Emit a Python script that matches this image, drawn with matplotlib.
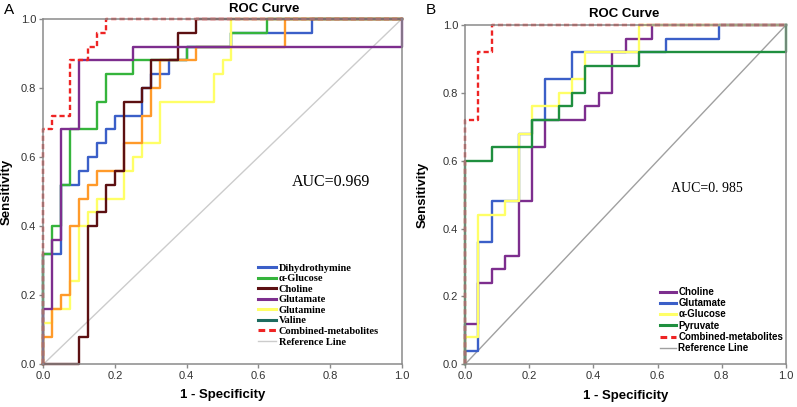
import matplotlib.pyplot as plt
from matplotlib.lines import Line2D

plt.rcParams['font.family'] = ['Liberation Sans', 'DejaVu Sans']

# ---- panel A : ROC corner points (1 - specificity, sensitivity) ----
dihydro_fpr = [0, 0, 0.05, 0.05, 0.1, 0.1, 0.125, 0.125, 0.15, 0.15, 0.175, 0.175, 0.2, 0.2,
               0.275, 0.275, 0.3, 0.3, 0.35, 0.35, 0.4, 0.4, 0.525, 0.525, 0.75, 0.75, 1]
dihydro_tpr = [0, 0.32, 0.32, 0.52, 0.52, 0.56, 0.56, 0.60, 0.60, 0.64, 0.64, 0.68, 0.68, 0.72,
               0.72, 0.80, 0.80, 0.84, 0.84, 0.88, 0.88, 0.92, 0.92, 0.96, 0.96, 1, 1]

aglucose_fpr = [0, 0, 0.025, 0.025, 0.05, 0.05, 0.075, 0.075, 0.15, 0.15, 0.175, 0.175, 0.25, 0.25,
                0.4, 0.4, 0.525, 0.525, 0.625, 0.625, 1]
aglucose_tpr = [0, 0.32, 0.32, 0.40, 0.40, 0.52, 0.52, 0.68, 0.68, 0.76, 0.76, 0.84, 0.84, 0.88,
                0.88, 0.92, 0.92, 0.96, 0.96, 1, 1]

choline_a_fpr = [0, 0.1, 0.1, 0.125, 0.125, 0.15, 0.15, 0.175, 0.175, 0.2, 0.2, 0.225, 0.225,
                 0.275, 0.275, 0.3, 0.3, 0.375, 0.375, 0.425, 0.425, 1]
choline_a_tpr = [0, 0, 0.08, 0.08, 0.40, 0.40, 0.44, 0.44, 0.52, 0.52, 0.56, 0.56, 0.76,
                 0.76, 0.80, 0.80, 0.88, 0.88, 0.96, 0.96, 1, 1]

glutamate_a_fpr = [0, 0, 0.025, 0.025, 0.05, 0.05, 0.1, 0.1, 0.25, 0.25, 1, 1]
glutamate_a_tpr = [0, 0.16, 0.16, 0.36, 0.36, 0.68, 0.68, 0.88, 0.88, 0.92, 0.92, 1]

glutamine_fpr = [0, 0, 0.025, 0.025, 0.075, 0.075, 0.1, 0.1, 0.125, 0.125, 0.15, 0.15, 0.225, 0.225,
                 0.25, 0.25, 0.275, 0.275, 0.325, 0.325, 0.475, 0.475, 0.5, 0.5, 0.525, 0.525, 1]
glutamine_tpr = [0, 0.12, 0.12, 0.16, 0.16, 0.24, 0.24, 0.40, 0.40, 0.44, 0.44, 0.48, 0.48, 0.56,
                 0.56, 0.60, 0.60, 0.64, 0.64, 0.76, 0.76, 0.84, 0.84, 0.88, 0.88, 1, 1]

valine_fpr = [0, 0, 0.025, 0.025, 0.05, 0.05, 0.075, 0.075, 0.1, 0.1, 0.125, 0.125, 0.15, 0.15,
              0.225, 0.225, 0.275, 0.275, 0.3, 0.3, 0.325, 0.325, 0.425, 0.425, 0.675, 0.675, 1]
valine_tpr = [0, 0.08, 0.08, 0.16, 0.16, 0.20, 0.20, 0.40, 0.40, 0.48, 0.48, 0.52, 0.52, 0.56,
              0.56, 0.64, 0.64, 0.72, 0.72, 0.80, 0.80, 0.88, 0.88, 0.92, 0.92, 1, 1]

combined_a_fpr = [0, 0, 0.025, 0.025, 0.075, 0.075, 0.125, 0.125, 0.15, 0.15, 0.175, 0.175, 1]
combined_a_tpr = [0, 0.68, 0.68, 0.72, 0.72, 0.88, 0.88, 0.92, 0.92, 0.96, 0.96, 1, 1]

# ---- panel B ----
choline_b_fpr = [0, 0, 0.042, 0.042, 0.083, 0.083, 0.125, 0.125, 0.167, 0.167, 0.208, 0.208, 0.25,
                 0.25, 0.375, 0.375, 0.417, 0.417, 0.458, 0.458, 0.5, 0.5, 0.583, 0.583, 1]
choline_b_tpr = [0, 0.12, 0.12, 0.24, 0.24, 0.28, 0.28, 0.32, 0.32, 0.48, 0.48, 0.64, 0.64,
                 0.72, 0.72, 0.76, 0.76, 0.80, 0.80, 0.92, 0.92, 0.96, 0.96, 1, 1]

glutamate_b_fpr = [0, 0, 0.042, 0.042, 0.083, 0.083, 0.167, 0.167, 0.208, 0.208, 0.25, 0.25,
                   0.333, 0.333, 0.625, 0.625, 0.792, 0.792, 1]
glutamate_b_tpr = [0, 0.04, 0.04, 0.36, 0.36, 0.48, 0.48, 0.68, 0.68, 0.72, 0.72, 0.84,
                   0.84, 0.92, 0.92, 0.96, 0.96, 1, 1]

aglucose_b_fpr = [0, 0, 0.042, 0.042, 0.125, 0.125, 0.167, 0.167, 0.208, 0.208, 0.292, 0.292,
                  0.333, 0.333, 0.375, 0.375, 0.542, 0.542, 1]
aglucose_b_tpr = [0, 0.08, 0.08, 0.44, 0.44, 0.48, 0.48, 0.68, 0.68, 0.76, 0.76, 0.80,
                  0.80, 0.84, 0.84, 0.92, 0.92, 1, 1]

pyruvate_fpr = [0, 0, 0.083, 0.083, 0.208, 0.208, 0.292, 0.292, 0.333, 0.333, 0.375, 0.375,
                0.542, 0.542, 1, 1]
pyruvate_tpr = [0, 0.60, 0.60, 0.64, 0.64, 0.72, 0.72, 0.76, 0.76, 0.80, 0.80, 0.88,
                0.88, 0.92, 0.92, 1]

combined_b_fpr = [0, 0, 0.042, 0.042, 0.083, 0.083, 1]
combined_b_tpr = [0, 0.72, 0.72, 0.92, 0.92, 1, 1]

ref_line = [0, 1]
ticks = [0, 0.2, 0.4, 0.6, 0.8, 1.0]

legend_a = ['Dihydrothymine', 'α-Glucose', 'Choline', 'Glutamate', 'Glutamine', 'Valine',
            'Combined-metabolites', 'Reference Line']
legend_a_colors = ['#3b5fc8', '#35b43c', '#5c1012', '#7d2e8e', '#ffff66', '#1d6b5f', '#ee2424', '#cccccc']
legend_b = ['Choline', 'Glutamate', 'α-Glucose', 'Pyruvate', 'Combined-metabolites', 'Reference Line']
legend_b_colors = ['#7d2e8e', '#3b5fc8', '#ffff66', '#1f8f3f', '#ee2424', '#a0a0a0']

LW = 1.7
DASH = (0, (2.2, 1.3))


def style_axes(ax):
    ax.set_xlim(0, 1)
    ax.set_ylim(0, 1)
    ax.set_xticks(ticks)
    ax.set_yticks(ticks)
    ax.set_xticklabels(['%.1f' % t for t in ticks])
    ax.set_yticklabels(['%.1f' % t for t in ticks])
    for s in ax.spines.values():
        s.set_color('#8a8a8a')
        s.set_linewidth(1.1)
    ax.tick_params(length=3, width=1, color='#8a8a8a', labelsize=8, labelcolor='#333333', pad=2)
    ax.set_xlabel('1 - Specificity', fontsize=9.5, fontweight='bold')
    ax.set_ylabel('Sensitivity', fontsize=9.5, fontweight='bold')


def handles(colors):
    hs = []
    for c in colors:
        ls = DASH if c == '#ee2424' else '-'
        lw = 1.0 if c in ('#cccccc', '#a0a0a0') else 2.2
        hs.append(Line2D([], [], color=c, lw=lw, ls=ls))
    return hs


fig = plt.figure(figsize=(7.97, 4.07), dpi=100)

# panel A
ax1 = fig.add_axes([43.3 / 797, 1 - 364.3 / 407, 358.4 / 797, 345.3 / 407])
ax1.plot(ref_line, ref_line, color='#cccccc', lw=1.0, zorder=1)
ax1.plot(dihydro_fpr, dihydro_tpr, color='#3b5fc8', lw=LW, clip_on=False)
ax1.plot(aglucose_fpr, aglucose_tpr, color='#35b43c', lw=LW, clip_on=False)
ax1.plot(glutamine_fpr, glutamine_tpr, color='#ffff66', lw=LW, clip_on=False)
ax1.plot(valine_fpr, valine_tpr, color='#ff9a2a', lw=LW, clip_on=False)
ax1.plot(choline_a_fpr, choline_a_tpr, color='#5c1012', lw=LW, clip_on=False)
ax1.plot(glutamate_a_fpr, glutamate_a_tpr, color='#7d2e8e', lw=LW, clip_on=False)
ax1.plot(combined_a_fpr, combined_a_tpr, color='#ee2424', lw=LW, ls=DASH, clip_on=False)
style_axes(ax1)
ax1.xaxis.set_label_coords(0.5, -0.072)
ax1.yaxis.set_label_coords(-0.085, 0.5)
ax1.text(0.803, 0.528, 'AUC=0.969', family='Liberation Serif', fontsize=11.5, ha='center', va='center')
ax1.legend(handles(legend_a_colors), legend_a, loc='upper left', bbox_to_anchor=(0.599, 0.292),
           frameon=False, borderpad=0, borderaxespad=0, handlelength=1.7, handletextpad=0.3,
           labelspacing=0.12, prop={'family': 'Liberation Serif', 'weight': 'bold', 'size': 7.5})

# panel B
ax2 = fig.add_axes([465 / 797, 1 - 364.3 / 407, 321 / 797, 339.3 / 407])
ax2.plot(ref_line, ref_line, color='#a0a0a0', lw=1.0, zorder=1)
ax2.plot(choline_b_fpr, choline_b_tpr, color='#7d2e8e', lw=LW, clip_on=False)
ax2.plot(glutamate_b_fpr, glutamate_b_tpr, color='#3b5fc8', lw=LW, clip_on=False)
ax2.plot(aglucose_b_fpr, aglucose_b_tpr, color='#ffff66', lw=LW, clip_on=False)
ax2.plot(pyruvate_fpr, pyruvate_tpr, color='#1f8f3f', lw=LW, clip_on=False)
ax2.plot(combined_b_fpr, combined_b_tpr, color='#ee2424', lw=LW, ls=DASH, clip_on=False)
style_axes(ax2)
ax2.xaxis.set_label_coords(0.5, -0.075)
ax2.yaxis.set_label_coords(-0.112, 0.5)
ax2.text(0.752, 0.517, 'AUC=0. 985', family='Liberation Serif', fontsize=10, ha='center', va='center')
ax2.legend(handles(legend_b_colors), legend_b, loc='upper left', bbox_to_anchor=(0.607, 0.228),
           frameon=False, borderpad=0, borderaxespad=0, handlelength=1.65, handletextpad=0.25,
           labelspacing=0.13, prop={'weight': 'bold', 'size': 7})

fig.text(264 / 797, 1 - 9 / 407, 'ROC Curve', ha='center', va='center', fontsize=9.5, fontweight='bold')
fig.text(624 / 797, 1 - 14 / 407, 'ROC Curve', ha='center', va='center', fontsize=9.5, fontweight='bold')
fig.text(9 / 797, 1 - 10 / 407, 'A', ha='center', va='center', fontsize=11)
fig.text(431 / 797, 1 - 10 / 407, 'B', ha='center', va='center', fontsize=11)

fig.savefig('out.png', dpi=100)
